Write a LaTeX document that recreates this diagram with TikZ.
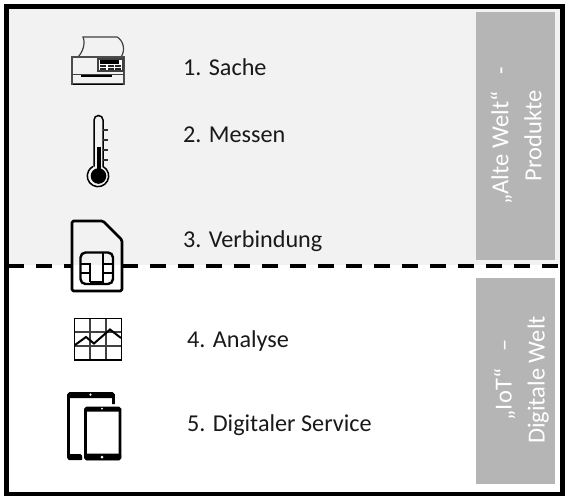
\documentclass[tikz,border=0pt]{standalone}
\usepackage{fontspec}
\setmainfont{Carlito}
\definecolor{topbg}{HTML}{F2F2F2}
\definecolor{sidebox}{HTML}{B5B5B5}
\tikzset{
 lbl/.style={anchor=west,inner sep=0pt,font=\fontsize{24.2}{28}\selectfont,text=black!90},
 side/.style={rotate=90,align=center,text=white,inner sep=0pt,font=\fontsize{24.5}{33}\selectfont},
 sidebg/.style={fill=sidebox,draw=none},
 divider/.style={line width=4pt,dash pattern=on 16pt off 12pt,black},
 icb/.style={line width=2.7pt,black,line join=round,rounded corners=1.5pt},
}
\begin{document}
\begin{tikzpicture}[x=1pt,y=-1pt]
\useasboundingbox (0,0) rectangle (570,503);
\fill[white] (0,0) rectangle (570,503);
\fill[topbg] (8,8) rectangle (561,265);
% side boxes
\path[sidebg] (476,12) rectangle (555,260);
\path[sidebg] (476,278) rectangle (555,484);
\node[side] (alt) at (516,136) {„Alte Welt“ \ \ -\\Produkte};
\node[side] (iot) at (521.5,380) {„IoT“ \ \ –\\Digitale Welt};
% frame and divider
\coordinate (dl) at (8,266);
\coordinate (dsl) at (72,266);
\coordinate (dsr) at (122.3,266);
\coordinate (dr) at (561,266);
\draw[divider] (dl) -- (dsl);
\draw[divider] (dsr) -- (dr);
\draw[line width=4.5pt,black] (6.5,6.5) rectangle (562.5,494);
% labels
\node[lbl] (l1) at (183,67.5) {1. Sache};
\node[lbl] (l2) at (183,134.5) {2. Messen};
\node[lbl] (l3) at (183,241) {3. Verbindung};
\node[lbl] (l4) at (187,341.5) {4. Analyse};
\node[lbl] (l5) at (187,425.5) {5. Digitaler Service};
% printer
\draw[line width=1.2pt,black!75] (78,57) .. controls (82,53) and (86,44) .. (83,37) -- (117,37) .. controls (123,40) and (126,50) .. (121,57);
\draw[line width=1.3pt,black!70] (72,57) rectangle (124,84);
\draw[line width=1pt,black!75] (72,74.5) -- (124,74.5);
\fill[black] (81,75) rectangle (112,77);
\draw[line width=1.4pt,black] (73,84.5) -- (123,84.5);
\fill[black!75] (97,58) rectangle (124,72.5);
\fill[white] (99,60) rectangle (122,70.5);
\fill[black] (100,60.5) rectangle (119,64);
\foreach \x in {100,107.5,115}{\fill[black!85] (\x,65.5) rectangle +(6,1.8);\fill[black!85] (\x,68.5) rectangle +(6,1.8);}
% thermometer
\draw[line width=1.5pt,black] (94,166.5) -- (94,120) arc[start angle=180,end angle=360,radius=4.5] -- (103,166.5) arc[start angle=298,end angle=602,radius=10.7];
\fill[black] (96.5,147) rectangle (100.5,172);
\fill[black] (98.5,176) circle[radius=7.8];
\foreach \y in {130,140,150,160}{\draw[line width=1.1pt,black!80] (103,\y) -- (107.5,\y);}
% SIM card
\draw[icb] (72,224) -- (72,291) -- (122,291) -- (122,240) -- (103,221) -- (72,221) -- cycle;
\draw[line width=2.4pt,black,rounded corners=5pt] (80.5,252.5) rectangle (113,284);
\draw[line width=1.8pt,black] (81,264) -- (90,264) -- (90,282);
\draw[line width=1.8pt,black] (81,273) -- (90,273);
\draw[line width=1.8pt,black] (90,282) -- (103,282) -- (103,253);
\draw[line width=1.8pt,black] (103,264) -- (112,264);
\draw[line width=1.8pt,black] (103,273) -- (112,273);
% chart
\draw[line width=1.1pt,black!75] (90,318) -- (90,360) (106,318) -- (106,360) (74,332) -- (122,332) (74,346) -- (122,346);
\draw[line width=1.2pt,black] (74.5,318.5) rectangle (121.5,360);
\draw[line width=2pt,black] (75,345) -- (86,337) -- (94,343.5) -- (110,329.5) -- (121,338);
% tablets
\draw[line width=2.6pt,black,rounded corners=1.5pt] (82,458.5) -- (68.5,458.5) -- (68.5,393.5) -- (113.5,393.5) -- (113.5,404);
\fill[black,rounded corners=1.5pt] (67.5,392.5) rectangle (114.5,398);
\fill[black,rounded corners=1.5pt] (67.5,454) rectangle (82,460);
\fill[white] (90.5,394.6) circle[radius=1.2];
\draw[line width=2.6pt,black,rounded corners=1.5pt] (85.5,408) rectangle (120,459);
\fill[black,rounded corners=1.5pt] (84.5,407) rectangle (121,411.5);
\fill[black,rounded corners=1.5pt] (84.5,453.5) rectangle (121,460);
\fill[white] (102,408.7) circle[radius=1];
\fill[white] (102,457) circle[radius=1.5];
\end{tikzpicture}
\end{document}
